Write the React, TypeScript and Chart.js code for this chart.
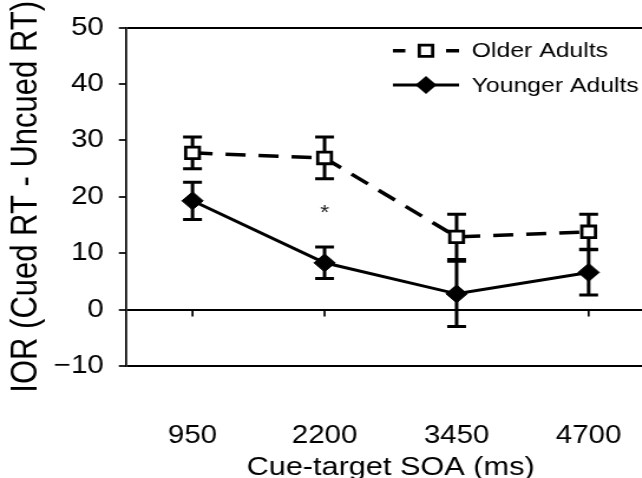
import React, { useEffect, useRef } from 'react';
import { Chart, registerables } from 'chart.js';

Chart.register(...registerables);

// ---- data ----
const categories = ['950', '2200', '3450', '4700'];
const seriesNames = ['Older Adults', 'Younger Adults'];
const olderMeans = [27.8, 26.9, 12.9, 13.8];
const olderErrors = [2.8, 3.7, 4.0, 3.1];
const youngerMeans = [19.3, 8.3, 2.8, 6.6];
const youngerErrors = [3.3, 2.8, 5.8, 4.0];
const yTicks = [-10, 0, 10, 20, 30, 40, 50];
const significance = [{ category: '2200', value: 17.9, mark: '*' }];
const xTitle = 'Cue-target SOA (ms)';
const yTitle = 'IOR (Cued RT - Uncued RT)';

// ---- layout ----
const STRETCH = 1.18;
const W = 575;
const H = 478;
const FONT = "'Liberation Sans', Arial, Helvetica, sans-serif";

const errorBarPlugin = {
  id: 'errorBars',
  beforeDatasetsDraw(chart: any) {
    const ctx = chart.ctx;
    const ys = chart.scales.y;
    const xs = chart.scales.x;
    ctx.save();
    ctx.strokeStyle = '#000';
    // zero-line tick marks
    const y0 = ys.getPixelForValue(0);
    ctx.lineWidth = 1.7;
    ctx.beginPath();
    categories.forEach((_, i) => {
      const px = xs.getPixelForValue(i);
      ctx.moveTo(px, y0);
      ctx.lineTo(px, y0 + 7);
    });
    ctx.stroke();
    // error bars
    ctx.lineWidth = 3;
    chart.data.datasets.forEach((ds: any, di: number) => {
      const meta = chart.getDatasetMeta(di);
      meta.data.forEach((pt: any, i: number) => {
        const v = ds.data[i];
        const e = ds.errors[i];
        const yT = ys.getPixelForValue(v + e);
        const yB = ys.getPixelForValue(v - e);
        const cw = 8;
        ctx.beginPath();
        ctx.moveTo(pt.x, yT);
        ctx.lineTo(pt.x, yB);
        ctx.moveTo(pt.x - cw, yT);
        ctx.lineTo(pt.x + cw, yT);
        ctx.moveTo(pt.x - cw, yB);
        ctx.lineTo(pt.x + cw, yB);
        ctx.stroke();
      });
    });
    ctx.restore();
  },
  afterDatasetsDraw(chart: any) {
    const ctx = chart.ctx;
    const ys = chart.scales.y;
    const xs = chart.scales.x;
    ctx.save();
    ctx.fillStyle = '#222';
    ctx.font = `20px ${FONT}`;
    ctx.textAlign = 'center';
    ctx.textBaseline = 'alphabetic';
    significance.forEach((s) => {
      const px = xs.getPixelForValue(categories.indexOf(s.category));
      const py = ys.getPixelForValue(s.value);
      const m = ctx.measureText(s.mark);
      const base = py + (m.actualBoundingBoxAscent - m.actualBoundingBoxDescent) / 2;
      ctx.fillText(s.mark, px, base);
    });
    ctx.restore();
  },
};

const legendPlugin = {
  id: 'customLegend',
  afterDraw(chart: any) {
    const ctx = chart.ctx;
    const rows = [50.7, 85];
    const x0 = 333;
    const x1 = 389;
    const mx = 361;
    const tx = 399.7;
    ctx.save();
    ctx.strokeStyle = '#000';
    // Older: dash - square - dash
    let y = rows[0];
    ctx.lineWidth = 3.5;
    ctx.beginPath();
    ctx.moveTo(x0, y);
    ctx.lineTo(x0 + 10.5, y);
    ctx.moveTo(x1 - 11, y);
    ctx.lineTo(x1, y);
    ctx.stroke();
    const h = 8 * Math.SQRT1_2;
    ctx.fillStyle = '#fff';
    ctx.lineWidth = 2.8;
    ctx.beginPath();
    ctx.rect(mx - h, y - h, 2 * h, 2 * h);
    ctx.fill();
    ctx.stroke();
    // Younger: solid line + diamond
    y = rows[1];
    ctx.lineWidth = 3;
    ctx.beginPath();
    ctx.moveTo(x0, y);
    ctx.lineTo(x1, y);
    ctx.stroke();
    const r = 9;
    ctx.fillStyle = '#000';
    ctx.beginPath();
    ctx.moveTo(mx - r, y);
    ctx.lineTo(mx, y - r);
    ctx.lineTo(mx + r, y);
    ctx.lineTo(mx, y + r);
    ctx.closePath();
    ctx.fill();
    // labels
    ctx.font = `21px ${FONT}`;
    ctx.textAlign = 'left';
    ctx.textBaseline = 'middle';
    ctx.fillStyle = '#000';
    chart.data.datasets.forEach((ds: any, i: number) => {
      ctx.fillText(ds.label, tx, rows[i] + 1);
    });
    ctx.restore();
  },
};

export default function App() {
  const ref = useRef<HTMLCanvasElement | null>(null);

  useEffect(() => {
    if (!ref.current) return;
    const chart = new Chart(ref.current, {
      type: 'line',
      data: {
        labels: categories,
        datasets: [
          {
            label: seriesNames[0],
            data: olderMeans,
            errors: olderErrors,
            borderColor: '#000',
            borderWidth: 3.5,
            borderDash: [17, 11],
            pointStyle: 'rect',
            pointRadius: 8.2,
            pointBorderWidth: 2.8,
            pointBackgroundColor: '#fff',
            pointBorderColor: '#000',
            tension: 0,
            fill: false,
          } as any,
          {
            label: seriesNames[1],
            data: youngerMeans,
            errors: youngerErrors,
            borderColor: '#000',
            borderWidth: 3,
            pointStyle: 'rectRot',
            pointRadius: 9,
            pointBorderWidth: 1,
            pointBackgroundColor: '#000',
            pointBorderColor: '#000',
            tension: 0,
            fill: false,
          } as any,
        ],
      },
      options: {
        responsive: false,
        animation: false,
        events: [],
        layout: { padding: { top: 24.5, right: 20.2, bottom: 0, left: 0 } },
        plugins: {
          legend: { display: false },
          tooltip: { enabled: false },
        },
        scales: {
          x: {
            type: 'category',
            offset: true,
            grid: { display: false, drawTicks: false },
            border: { display: false },
            ticks: {
              color: '#000',
              font: { family: FONT, size: 25, lineHeight: 4.8 },
              padding: 10,
              maxRotation: 0,
              autoSkip: false,
            },
            title: {
              display: true,
              text: xTitle,
              color: '#000',
              font: { family: FONT, size: 26 },
              padding: { top: 0, bottom: -5 },
            },
            afterFit(s: any) {
              s.height = 112;
            },
          },
          y: {
            type: 'linear',
            min: -10,
            max: 50,
            afterBuildTicks(s: any) {
              s.ticks = yTicks.map((v) => ({ value: v }));
            },
            ticks: {
              color: '#000',
              font: { family: FONT, size: 25 },
              padding: 12.7,
              callback: (v: any) => (v < 0 ? '\u2212' + Math.abs(v) : String(v)),
            },
            grid: {
              drawOnChartArea: true,
              color: (c: any) =>
                c.tick && [50, 0, -10].includes(c.tick.value) ? '#000' : 'rgba(0,0,0,0)',
              lineWidth: 2,
              tickColor: '#000',
              tickLength: 6.5,
              tickWidth: 1.7,
            },
            border: { display: true, color: '#000', width: 1.7 },
            title: {
              display: true,
              text: yTitle,
              color: '#000',
              font: { family: FONT, size: 31 },
              padding: { top: 4, bottom: 0 },
            },
            afterFit(s: any) {
              s.width = 107.2;
            },
          },
        },
      } as any,
      plugins: [errorBarPlugin, legendPlugin],
    });
    return () => chart.destroy();
  }, []);

  return (
    <div
      style={{
        position: 'fixed',
        left: 0,
        top: 0,
        width: 642,
        height: 478,
        overflow: 'hidden',
        background: '#fff',
      }}
    >
      <div
        style={{
          width: W,
          height: H,
          transform: `scaleX(${STRETCH})`,
          transformOrigin: '0 0',
        }}
      >
        <canvas ref={ref} width={W} height={H} style={{ display: 'block' }} />
      </div>
    </div>
  );
}
